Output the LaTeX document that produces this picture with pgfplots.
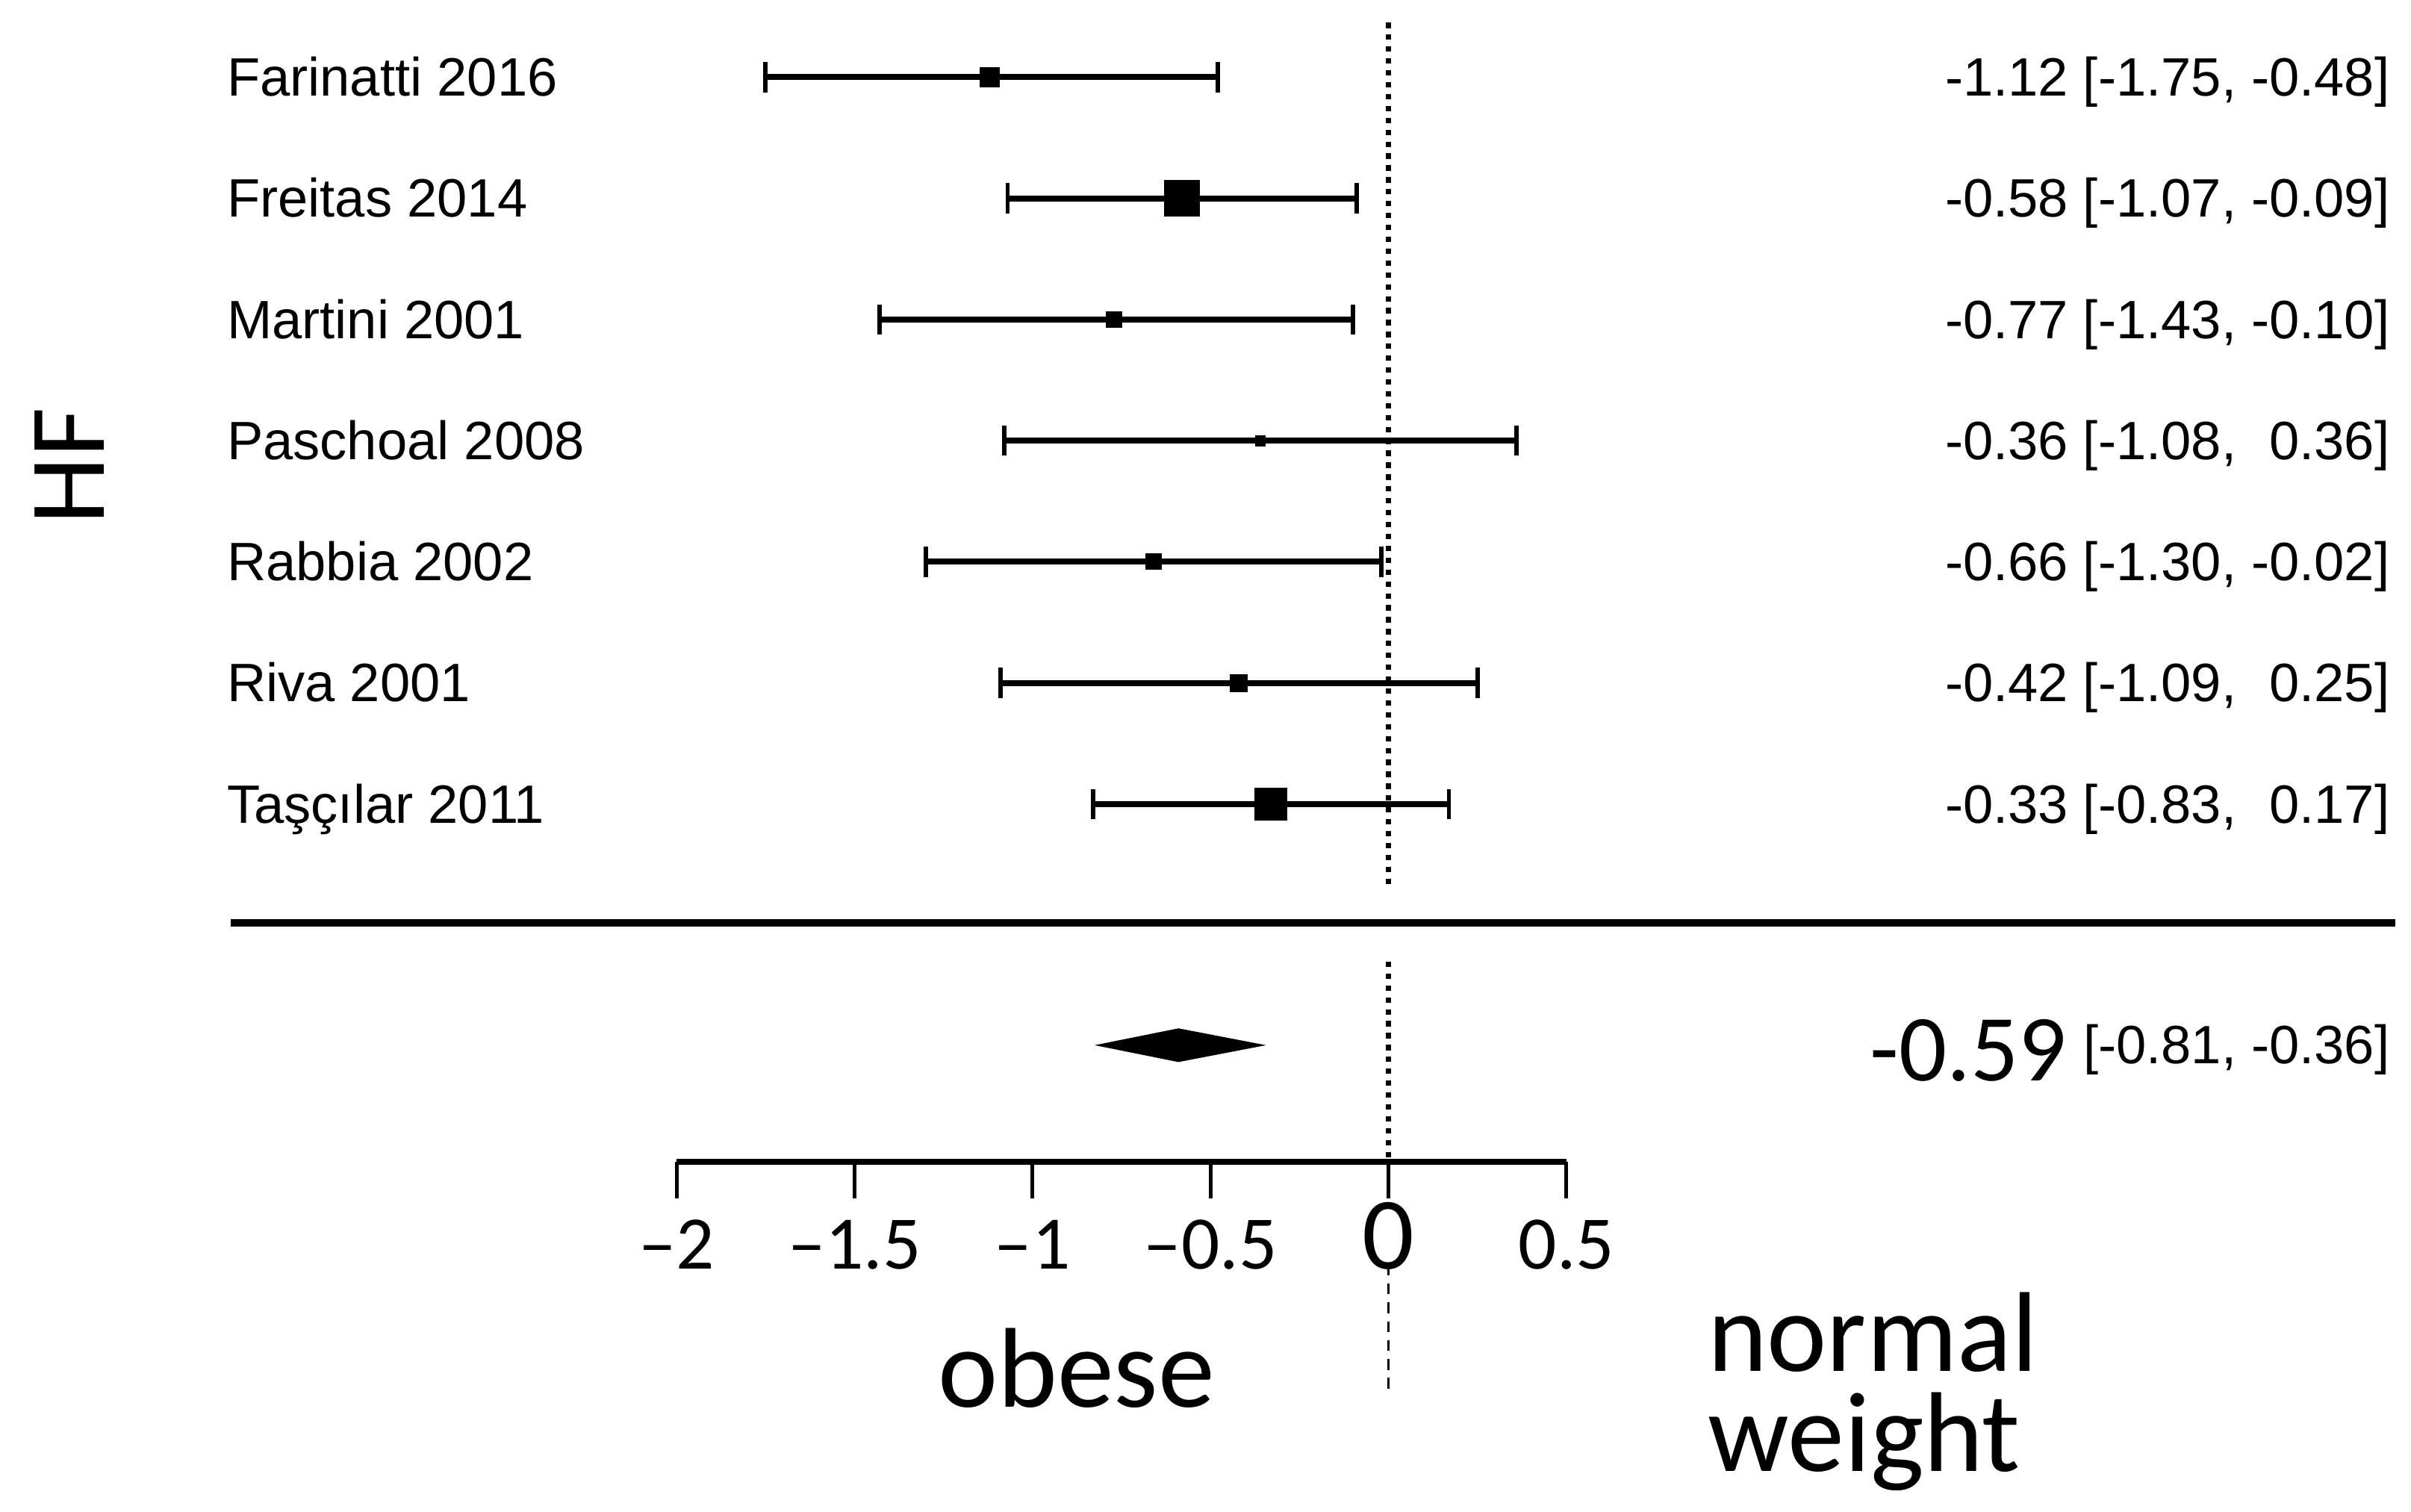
\documentclass[border=0pt]{standalone}
\usepackage{fontspec}
\setmainfont{Liberation Sans}
\newfontfamily\carl{Carlito}
\usepackage{pgfplots}
\usepackage{pgfplotstable}
\pgfplotsset{compat=1.18}

% row, effect, CI minus/plus, half size of the square (pt)
\pgfplotstableread{
row x em ep s
7 -1.12 0.63 0.64 1.75
6 -0.58 0.49 0.49 3.3
5 -0.77 0.66 0.67 1.45
4 -0.36 0.72 0.72 0.95
3 -0.66 0.64 0.64 1.45
2 -0.42 0.67 0.67 1.6
1 -0.33 0.50 0.50 3.0
}\studies

\tikzset{lab/.style={inner sep=0pt, font=\fontsize{10}{12}\selectfont}}

\begin{document}
\begin{tikzpicture}
\begin{axis}[
  scale only axis, width=5.7875cm, height=7.4466cm,
  xmin=-2, xmax=0.5, ymin=-1.95, ymax=7.5,
  axis x line*=bottom, axis y line=none,
  clip=false,
  xtick={-2,-1.5,-1,-0.5,0,0.5},
  xticklabels={{–2},{–1.5},{–1},{–0.5},{\fontsize{19}{19}\selectfont 0},{0.5}},
  x tick label style={font=\carl\fontsize{14}{14}\selectfont, anchor=base, yshift=-0.46cm},
  tick align=outside, major tick length=0.24cm,
  x axis line style={line width=1.1pt},
  xtick style={line width=0.7pt, black},
  ytick=\empty,
]
% reference line at 0
\addplot[black, line width=1pt, dash pattern=on 1pt off 1.2pt] coordinates {(0,7.45) (0,0.3)};
\addplot[black, line width=1pt, dash pattern=on 1pt off 1.2pt] coordinates {(0,-0.3) (0,-1.95)};
\addplot[black, line width=0.5pt, dash pattern=on 2pt off 1.5pt] coordinates {(0,-2.8) (0,-3.85)};

% separator
\addplot[black, line width=1.5pt] coordinates {(-3.253,0.02) (2.829,0.02)};

% studies
\addplot[only marks, mark=square*, black, mark options={line width=0pt},
  scatter, scatter/use mapped color={draw=black, fill=black},
  visualization depends on={\thisrow{s} \as \msize},
  scatter/@pre marker code/.append style={/tikz/mark size=\msize},
  error bars/.cd, x dir=both, x explicit,
  error mark=|,
  error bar style={line width=1.1pt, black},
  error mark options={line width=0.8pt, mark size=2.8pt, black}]
  table[x=x, y=row, x error minus=em, x error plus=ep] {\studies};

% pooled estimate
\addplot[black, fill=black] coordinates {(-0.81,-0.99) (-0.59,-0.86) (-0.36,-0.99) (-0.59,-1.12)} -- cycle;

% labels
\node[lab, anchor=base west] at (axis cs:-3.266,6.845) {Farinatti 2016};
\node[lab, anchor=base west] at (axis cs:-3.266,5.845) {Freitas 2014};
\node[lab, anchor=base west] at (axis cs:-3.266,4.845) {Martini 2001};
\node[lab, anchor=base west] at (axis cs:-3.266,3.845) {Paschoal 2008};
\node[lab, anchor=base west] at (axis cs:-3.266,2.845) {Rabbia 2002};
\node[lab, anchor=base west] at (axis cs:-3.266,1.845) {Riva 2001};
\node[lab, anchor=base west] at (axis cs:-3.266,0.845) {Taşçılar 2011};

\node[lab, anchor=base east] at (axis cs:2.816,6.845) {-1.12 [-1.75, -0.48]};
\node[lab, anchor=base east] at (axis cs:2.816,5.845) {-0.58 [-1.07, -0.09]};
\node[lab, anchor=base east] at (axis cs:2.816,4.845) {-0.77 [-1.43, -0.10]};
\node[lab, anchor=base east] at (axis cs:2.816,3.845) {-0.36 [-1.08, \phantom{-}0.36]};
\node[lab, anchor=base east] at (axis cs:2.816,2.845) {-0.66 [-1.30, -0.02]};
\node[lab, anchor=base east] at (axis cs:2.816,1.845) {-0.42 [-1.09, \phantom{-}0.25]};
\node[lab, anchor=base east] at (axis cs:2.816,0.845) {-0.33 [-0.83, \phantom{-}0.17]};

\node[lab, anchor=base east, font=\carl\fontsize{17.5}{18}\selectfont] at (axis cs:1.909,-1.284) {-0.59};
\node[lab, anchor=base east] at (axis cs:2.816,-1.145) {[-0.81, -0.36]};

\node[inner sep=0pt, rotate=90, font=\carl\fontsize{20}{20}\selectfont] at (axis cs:-3.706,3.79) {HF};
\node[inner sep=0pt, anchor=base, font=\carl\fontsize{21}{21}\selectfont] at (axis cs:-0.877,-3.975) {obese};
\node[inner sep=0pt, anchor=base west, align=left, font=\carl\fontsize{21}{18.5}\selectfont] at (axis cs:0.894,-4.508) {normal\\weight};

\coordinate (bbBL) at (axis cs:-3.901,-4.838);
\coordinate (bbTR) at (axis cs:2.873,7.637);
\end{axis}
\pgfresetboundingbox
\path (bbBL) rectangle (bbTR);
\end{tikzpicture}
\end{document}
